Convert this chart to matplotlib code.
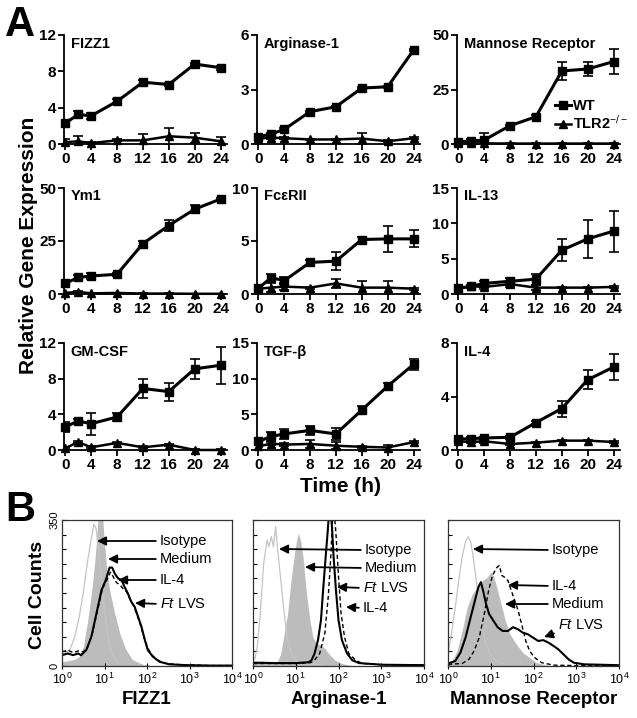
import numpy as np
import matplotlib
matplotlib.use('Agg')
import matplotlib.pyplot as plt
from matplotlib import font_manager as fm
from matplotlib.lines import Line2D
from matplotlib.ticker import FixedLocator, FuncFormatter, NullLocator

def has_font(name):
    try:
        fm.findfont(fm.FontProperties(family=name), fallback_to_default=False)
        return True
    except Exception:
        return False

BASE = 'Liberation Sans'
NARROW = 'Liberation Sans Narrow' if has_font('Liberation Sans Narrow') else BASE
plt.rcParams['font.family'] = [BASE, 'DejaVu Sans']
plt.rcParams['mathtext.fontset'] = 'custom'
plt.rcParams['mathtext.rm'] = NARROW
plt.rcParams['mathtext.it'] = NARROW + ':italic'
plt.rcParams['mathtext.bf'] = NARROW + ':bold'

# ---------------- Panel A data ----------------
time = [0, 2, 4, 8, 12, 16, 20, 24]
time_ticks = [0, 4, 8, 12, 16, 20, 24]

fizz1_wt = [2.3, 3.25, 3.1, 4.7, 6.8, 6.55, 8.8, 8.4]
fizz1_wt_err = [0.25, 0.35, 0.35, 0.2, 0.3, 0.2, 0.15, 0.2]
fizz1_ko = [0.2, 0.3, 0.1, 0.4, 0.4, 0.85, 0.7, 0.3]
fizz1_ko_err = [0.35, 0.55, 0.1, 0.1, 0.75, 0.95, 0.55, 0.5]

arg1_wt = [0.4, 0.55, 0.8, 1.78, 2.05, 3.08, 3.15, 5.17]
arg1_wt_err = [0.06, 0.06, 0.06, 0.06, 0.06, 0.06, 0.06, 0.06]
arg1_ko = [0.3, 0.35, 0.32, 0.25, 0.25, 0.3, 0.15, 0.32]
arg1_ko_err = [0.05, 0.1, 0.05, 0.05, 0.05, 0.3, 0.05, 0.05]

mr_wt = [1.0, 1.4, 1.8, 8.4, 12.5, 33.5, 34.4, 37.8]
mr_wt_err = [0.5, 0.8, 3.4, 0.5, 0.8, 4.0, 3.3, 5.6]
mr_ko = [0.4, 0.3, 0.3, 0.2, 0.2, 0.2, 0.2, 0.2]
mr_ko_err = [0.1, 0.1, 0.1, 0.1, 0.1, 0.1, 0.1, 0.1]

ym1_wt = [5.0, 7.8, 8.5, 9.3, 23.8, 32.3, 40.0, 44.8]
ym1_wt_err = [0.8, 1.0, 1.6, 0.8, 1.0, 2.6, 2.0, 0.6]
ym1_ko = [0.5, 1.0, 0.3, 0.5, 0.2, 0.2, 0.1, 0.1]
ym1_ko_err = [0.2, 0.2, 0.2, 0.2, 0.2, 0.2, 0.1, 0.1]

fce_wt = [0.53, 1.55, 1.25, 2.98, 3.1, 5.14, 5.2, 5.2]
fce_wt_err = [0.2, 0.3, 0.35, 0.2, 0.85, 0.2, 1.25, 0.8]
fce_ko = [0.5, 0.6, 0.7, 0.6, 1.0, 0.6, 0.6, 0.5]
fce_ko_err = [0.1, 0.45, 0.3, 0.1, 0.45, 0.65, 0.65, 0.1]

il13_wt = [0.8, 1.1, 1.5, 1.8, 2.1, 6.2, 7.8, 8.9]
il13_wt_err = [0.2, 0.2, 0.3, 0.4, 0.8, 1.6, 2.7, 2.9]
il13_ko = [0.8, 1.1, 1.0, 1.4, 0.9, 0.9, 0.9, 1.0]
il13_ko_err = [0.1, 0.2, 0.3, 0.4, 0.4, 0.1, 0.1, 0.1]

gmcsf_wt = [2.6, 3.25, 2.95, 3.7, 6.9, 6.55, 9.1, 9.5]
gmcsf_wt_err = [0.55, 0.2, 1.25, 0.5, 1.05, 1.0, 1.1, 2.05]
gmcsf_ko = [0.2, 0.9, 0.3, 0.8, 0.3, 0.6, 0.0, 0.0]
gmcsf_ko_err = [0.1, 0.1, 0.1, 0.1, 0.1, 0.1, 0.1, 0.1]

tgfb_wt = [1.2, 1.9, 2.25, 2.75, 2.25, 5.6, 8.95, 12.0]
tgfb_wt_err = [0.3, 0.6, 0.7, 0.6, 0.9, 0.6, 0.5, 0.8]
tgfb_ko = [0.5, 0.9, 0.75, 0.85, 0.6, 0.45, 0.35, 1.1]
tgfb_ko_err = [0.1, 0.2, 0.2, 0.5, 0.5, 0.1, 0.4, 0.1]

il4_wt = [0.82, 0.85, 0.9, 0.95, 2.05, 3.1, 5.25, 6.2]
il4_wt_err = [0.1, 0.1, 0.1, 0.1, 0.1, 0.6, 0.7, 1.0]
il4_ko = [0.65, 0.6, 0.65, 0.45, 0.55, 0.7, 0.7, 0.6]
il4_ko_err = [0.15, 0.1, 0.1, 0.05, 0.05, 0.05, 0.05, 0.05]

gene_names = ['FIZZ1', 'Arginase-1', 'Mannose Receptor',
              'Ym1', 'FcεRII', 'IL-13',
              'GM-CSF', 'TGF-β', 'IL-4']
gene_yticks = [[0, 4, 8, 12], [0, 3, 6], [0, 25, 50],
               [0, 25, 50], [0, 5, 10], [0, 5, 10, 15],
               [0, 4, 8, 12], [0, 5, 10, 15], [0, 4, 8]]
gene_series = [(fizz1_wt, fizz1_wt_err, fizz1_ko, fizz1_ko_err),
               (arg1_wt, arg1_wt_err, arg1_ko, arg1_ko_err),
               (mr_wt, mr_wt_err, mr_ko, mr_ko_err),
               (ym1_wt, ym1_wt_err, ym1_ko, ym1_ko_err),
               (fce_wt, fce_wt_err, fce_ko, fce_ko_err),
               (il13_wt, il13_wt_err, il13_ko, il13_ko_err),
               (gmcsf_wt, gmcsf_wt_err, gmcsf_ko, gmcsf_ko_err),
               (tgfb_wt, tgfb_wt_err, tgfb_ko, tgfb_ko_err),
               (il4_wt, il4_wt_err, il4_ko, il4_ko_err)]
series_labels = ['WT', 'TLR2$^{-/-}$']

# ---------------- Panel B data (log10 fluorescence, cell counts) ----------------
fizz_iso_lx = [0.0, 0.1, 0.2, 0.3, 0.4, 0.5, 0.6, 0.68, 0.75, 0.8, 0.88, 0.95, 1.05, 1.15, 1.3]
fizz_iso_n = [28, 32, 42, 70, 115, 175, 250, 300, 340, 330, 260, 180, 90, 35, 10]
fizz_med_lx = [0.0, 0.1, 0.2, 0.3, 0.4, 0.5, 0.6, 0.7, 0.78, 0.84, 0.88, 0.93, 0.98, 1.04, 1.12, 1.24, 1.36, 1.5, 1.66, 1.9, 2.2]
fizz_med_n = [10, 12, 14, 16, 22, 45, 105, 180, 260, 340, 410, 400, 320, 245, 182, 126, 78, 40, 15, 4, 0]
fizz_ft_lx = [0.0, 0.14, 0.26, 0.38, 0.45, 0.57, 0.69, 0.81, 0.93, 1.03, 1.12, 1.18, 1.24, 1.32, 1.4, 1.47, 1.55, 1.63, 1.71, 1.79, 1.87, 1.95, 2.02, 2.14, 2.3, 2.53, 2.93, 3.5, 4.0]
fizz_ft_n = [26, 30, 26, 30, 26, 38, 70, 126, 182, 206, 236, 236, 222, 210, 206, 190, 174, 154, 142, 118, 94, 62, 38, 22, 10, 4, 2, 1, 1]
fizz_il4_lx = [0.0, 0.14, 0.26, 0.38, 0.5, 0.6, 0.72, 0.84, 0.95, 1.05, 1.14, 1.2, 1.28, 1.36, 1.44, 1.52, 1.6, 1.68, 1.76, 1.84, 1.92, 2.0, 2.1, 2.25, 2.45, 2.8, 3.5, 4.0]
fizz_il4_n = [34, 38, 32, 36, 34, 44, 80, 135, 185, 205, 225, 215, 200, 195, 185, 178, 160, 145, 125, 100, 72, 48, 28, 14, 6, 3, 1, 1]

arg_iso_lx = [0.0, 0.05, 0.1, 0.17, 0.25, 0.33, 0.37, 0.43, 0.48, 0.53, 0.57, 0.65, 0.73, 0.81, 0.93, 1.05, 1.3, 1.6]
arg_iso_n = [12, 20, 46, 126, 246, 302, 286, 310, 286, 334, 286, 206, 126, 62, 22, 10, 5, 3]
arg_med_lx = [0.0, 0.2, 0.4, 0.57, 0.65, 0.73, 0.81, 0.89, 0.97, 1.03, 1.06, 1.11, 1.17, 1.25, 1.33, 1.4, 1.48, 1.59, 1.68, 1.8, 1.92, 2.08, 2.24, 2.5]
arg_med_n = [10, 12, 10, 10, 30, 78, 126, 206, 270, 306, 318, 302, 262, 174, 110, 70, 54, 50, 42, 26, 14, 6, 2, 0]
arg_ft_lx = [0.0, 0.5, 1.0, 1.3, 1.37, 1.44, 1.52, 1.59, 1.64, 1.7, 1.75, 1.78, 1.81, 1.85, 1.88, 1.94, 2.0, 2.08, 2.2, 2.32, 2.48, 3.03, 4.0]
arg_ft_n = [8, 7, 7, 9, 14, 30, 62, 110, 182, 262, 326, 370, 380, 330, 270, 182, 110, 62, 30, 14, 7, 3, 2]
arg_il4_lx = [0.0, 0.5, 1.0, 1.35, 1.44, 1.56, 1.68, 1.76, 1.82, 1.86, 1.9, 1.94, 2.0, 2.06, 2.14, 2.24, 2.4, 2.56, 3.0, 4.0]
arg_il4_n = [6, 6, 6, 8, 14, 30, 78, 166, 262, 350, 370, 318, 214, 126, 70, 30, 14, 6, 3, 2]

mr_iso_lx = [0.0, 0.09, 0.17, 0.25, 0.33, 0.41, 0.47, 0.53, 0.59, 0.66, 0.73, 0.81, 0.89, 0.98, 1.12, 1.36]
mr_iso_n = [28, 84, 141, 205, 261, 298, 310, 298, 261, 205, 149, 93, 52, 28, 12, 4]
mr_med_lx = [0.0, 0.09, 0.21, 0.33, 0.45, 0.57, 0.69, 0.81, 0.92, 1.0, 1.06, 1.14, 1.24, 1.34, 1.45, 1.6, 1.75, 1.91, 2.07, 2.31, 2.6]
mr_med_n = [6, 12, 36, 84, 141, 173, 189, 205, 213, 225, 217, 189, 149, 109, 76, 52, 32, 20, 8, 2, 0]
mr_il4_lx = [0.0, 0.33, 0.49, 0.61, 0.73, 0.85, 0.95, 1.04, 1.14, 1.2, 1.26, 1.32, 1.4, 1.48, 1.56, 1.64, 1.72, 1.82, 1.91, 2.03, 2.19, 2.47, 3.0, 4.0]
mr_il4_n = [4, 6, 16, 36, 68, 125, 181, 217, 236, 241, 217, 213, 205, 181, 157, 133, 101, 60, 36, 20, 8, 2, 1, 1]
mr_ft_lx = [0.0, 0.17, 0.29, 0.41, 0.53, 0.63, 0.71, 0.77, 0.82, 0.89, 0.96, 1.06, 1.16, 1.28, 1.4, 1.52, 1.64, 1.75, 1.87, 1.99, 2.11, 2.23, 2.35, 2.47, 2.58, 2.7, 2.82, 2.94, 3.18, 3.97]
mr_ft_n = [6, 12, 32, 68, 117, 157, 189, 201, 181, 149, 125, 109, 93, 84, 84, 93, 88, 80, 76, 68, 60, 62, 56, 48, 40, 28, 16, 8, 4, 2]

hist_xlabels = ['FIZZ1', 'Arginase-1', 'Mannose Receptor']
decade_ticks = [1, 10, 100, 1000, 10000]
count_ticks = list(range(0, 351, 35))

# ---------------- Layout ----------------
W, H = 637, 718
fig = plt.figure(figsize=(W / 100, H / 100), dpi=100)

def px_axes(l, t, r, b):
    return fig.add_axes([l / W, 1 - b / H, (r - l) / W, (b - t) / H])

def fpx(x, y):
    return (x / W, 1 - y / H)

cols_a = [(64, 227), (257, 420), (457, 620)]
rows_a = [(35, 144), (188, 294), (343, 450)]

for i, (name, yt, ser) in enumerate(zip(gene_names, gene_yticks, gene_series)):
    r, c = divmod(i, 3)
    ax = px_axes(cols_a[c][0], rows_a[r][0], cols_a[c][1], rows_a[r][1])
    wt, wte, ko, koe = ser
    e1 = ax.errorbar(time, wt, yerr=wte, fmt='-s', color='black', lw=2.2, ms=5.5,
                     capsize=3.5, elinewidth=1.2, capthick=1.2)
    e2 = ax.errorbar(time, ko, yerr=koe, fmt='-^', color='black', lw=1.8, ms=5.5,
                     capsize=3.5, elinewidth=1.2, capthick=1.2)
    e1.lines[0].set_clip_on(False)
    e2.lines[0].set_clip_on(False)
    ax.set_xlim(-0.2, 25)
    ax.set_ylim(yt[0], yt[-1])
    ax.set_xticks(time_ticks)
    ax.set_yticks(yt)
    for s in ['top', 'right']:
        ax.spines[s].set_visible(False)
    for s in ['left', 'bottom']:
        ax.spines[s].set_linewidth(1.3)
    ax.tick_params(direction='out', length=4, width=1.3, labelsize=11, pad=1.5)
    for lab in ax.get_xticklabels() + ax.get_yticklabels():
        lab.set_fontweight('bold')
    ax.text(0.04, 0.92, name, transform=ax.transAxes, ha='left', va='center',
            fontsize=10.5, fontweight='bold')
    if i == 2:
        handles = [Line2D([], [], color='black', lw=2.2, marker='s', ms=5.5),
                   Line2D([], [], color='black', lw=1.8, marker='^', ms=5.5)]
        ax.legend(handles, series_labels, loc='upper left', bbox_to_anchor=(0.6, 0.41),
                  frameon=False, handlelength=1.1, handletextpad=0.15, labelspacing=0.05,
                  borderpad=0, borderaxespad=0, prop={'weight': 'bold', 'size': 10.5})

fig.text(*fpx(28, 245), 'Relative Gene Expression', rotation=90, ha='center', va='center',
         fontsize=15, fontweight='bold')
fig.text(*fpx(340, 486), 'Time (h)', ha='center', va='center', fontsize=15, fontweight='bold')
fig.text(*fpx(20, 25), 'A', ha='center', va='center', fontsize=30, fontweight='bold')
fig.text(*fpx(20, 510), 'B', ha='center', va='center', fontsize=30, fontweight='bold')

# ---------------- Panel B ----------------
boxes_b = [(62, 520, 232, 666), (253, 520, 424, 666), (448, 520, 619, 666)]
hist_sets = [
    (fizz_iso_lx, fizz_iso_n, fizz_med_lx, fizz_med_n, fizz_ft_lx, fizz_ft_n, fizz_il4_lx, fizz_il4_n),
    (arg_iso_lx, arg_iso_n, arg_med_lx, arg_med_n, arg_ft_lx, arg_ft_n, arg_il4_lx, arg_il4_n),
    (mr_iso_lx, mr_iso_n, mr_med_lx, mr_med_n, mr_ft_lx, mr_ft_n, mr_il4_lx, mr_il4_n),
]

FT = r'$\it{Ft}$ LVS'
annots = [
    [('Isotype', (160, 541), (97, 541)), ('Medium', (160, 559), (108, 559)),
     ('IL-4', (160, 580), (118, 580)), (FT, (160, 604), (135, 603))],
    [('Isotype', (365, 550), (279, 549)), ('Medium', (365, 568), (305, 567)),
     (FT, (363, 588), (337, 587)), ('IL-4', (363, 608), (346, 607))],
    [('Isotype', (552, 550), (473, 549)), ('IL-4', (552, 586), (508, 585)),
     ('Medium', (552, 604), (505, 604)), (FT, (558, 625), (544, 637))],
]

for j, (box, hs, xl) in enumerate(zip(boxes_b, hist_sets, hist_xlabels)):
    ax = px_axes(*box)
    ilx, inn, mlx, mn, flx, fn, llx, ln = hs
    ax.plot(10 ** np.array(ilx), inn, color='#c4c4c4', lw=0.9)
    ax.fill_between(10 ** np.array(mlx), mn, 0, color='#bcbcbc', lw=0)
    ax.plot(10 ** np.array(llx), ln, color='black', lw=1.0, ls=(0, (3, 2)))
    ax.plot(10 ** np.array(flx), fn, color='black', lw=1.5)
    ax.set_xscale('log')
    ax.set_xlim(1, 1e4)
    ax.set_ylim(0, 350)
    ax.xaxis.set_major_locator(FixedLocator(decade_ticks))
    ax.xaxis.set_minor_locator(NullLocator())
    ax.xaxis.set_major_formatter(FuncFormatter(lambda v, p: r'$10^{%d}$' % int(round(np.log10(v)))))
    ax.yaxis.set_major_locator(FixedLocator(count_ticks))
    if j == 0:
        ax.yaxis.set_major_formatter(FuncFormatter(lambda v, p: '%d' % v if v in (0, 350) else ''))
        for lab in ax.get_yticklabels():
            lab.set_rotation(90)
            lab.set_va('center')
    else:
        ax.set_yticklabels([])
    for s in ax.spines.values():
        s.set_linewidth(0.9)
        s.set_color('#333333')
    ax.tick_params(axis='y', direction='in', length=3, width=0.8, labelsize=8, pad=2)
    ax.tick_params(axis='x', direction='inout', length=4, width=0.8, labelsize=9, pad=2)
    ax.set_xlabel(xl, fontsize=13.5, fontweight='bold', labelpad=3)
    for txt, tpos, tip in annots[j]:
        relpos = (0, 0) if (j == 2 and txt == FT) else (0, 0.5)
        fig.add_artist(matplotlib.text.Annotation(
            txt, xy=fpx(*tip), xytext=fpx(*tpos), xycoords='figure fraction',
            textcoords='figure fraction', ha='left', va='center',
            fontsize=10.5,
            arrowprops=dict(arrowstyle='-|>', color='black', lw=1.3,
                            mutation_scale=13, shrinkA=1, shrinkB=0, relpos=relpos)))

fig.text(*fpx(38, 595), 'Cell Counts', rotation=90, ha='center', va='center',
         fontsize=14, fontweight='bold')

fig.savefig('out.png', dpi=100)
